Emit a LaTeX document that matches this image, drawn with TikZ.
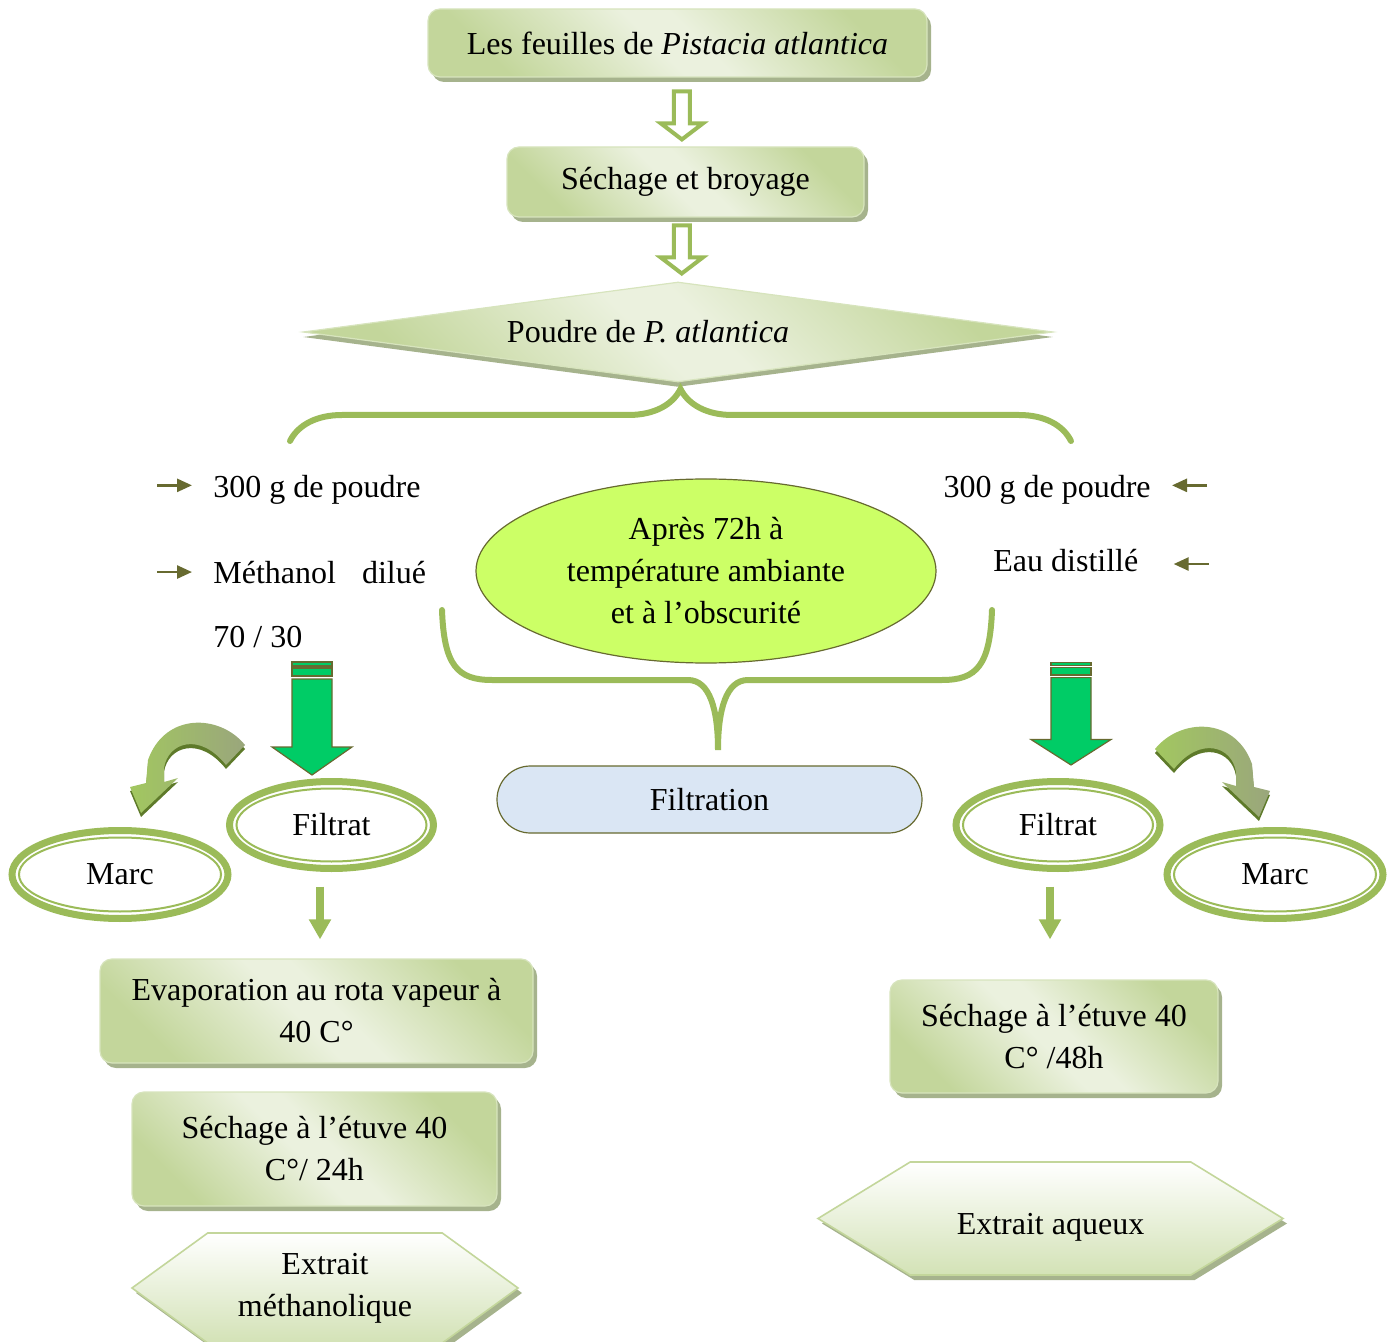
\documentclass[tikz,border=0pt]{standalone}
\usepackage{fontspec}
\setmainfont{Liberation Serif}
\usetikzlibrary{shapes.geometric,shapes.misc,shapes.symbols,shadows,calc,arrows.meta,decorations.pathreplacing}

\definecolor{gline}{HTML}{9BBB59}
\definecolor{gboxdark}{HTML}{C3D69B}
\definecolor{gboxlight}{HTML}{EBF1DE}
\definecolor{gedge}{HTML}{D7E4BD}
\definecolor{gshadow}{HTML}{A6B38D}
\definecolor{ghexdark}{HTML}{D3E2B6}
\definecolor{darkolive}{HTML}{676A30}
\definecolor{blockgreen}{HTML}{00CC66}
\definecolor{condfill}{HTML}{CCFF66}
\definecolor{filtfill}{HTML}{DAE6F4}
\definecolor{curvegreen}{HTML}{A2C760}
\definecolor{curvegray}{HTML}{9AA67C}
\definecolor{curvedark}{HTML}{5E7A2A}

\pgfdeclarehorizontalshading{gboxshade}{100bp}{color(0bp)=(gboxdark); color(25bp)=(gboxdark); color(47bp)=(gboxlight); color(53bp)=(gboxlight); color(75bp)=(gboxdark); color(100bp)=(gboxdark)}

\tikzset{
  gbox/.style={rectangle, rounded corners=6pt, draw=gedge, line width=0.6pt, shade, shading=gboxshade, shading angle=45,
    drop shadow={shadow xshift=2pt, shadow yshift=-2.5pt, fill=gshadow, opacity=1}, align=center, inner sep=0pt},
  losange/.style={diamond, aspect=7.5, draw=gedge, line width=0.6pt, shade, shading=gboxshade, shading angle=45,
    drop shadow={shadow xshift=0pt, shadow yshift=-2.5pt, fill=gshadow, opacity=1}, inner sep=0pt},
  hexbox/.style={signal, signal to=east and west, draw=gboxdark, line width=0.8pt, top color=white, bottom color=ghexdark,
    drop shadow={shadow xshift=2pt, shadow yshift=-2.5pt, fill=gshadow, opacity=1}, align=center, inner sep=0pt},
  cond/.style={ellipse, fill=condfill, draw=darkolive, line width=0.6pt, align=center, inner sep=0pt},
  filt/.style={rounded rectangle, fill=filtfill, draw=darkolive, line width=0.6pt, inner sep=0pt},
  ring/.style={ellipse, draw=gline, line width=3.5pt, fill=white, inner sep=0pt},
  ringin/.style={draw=gline, line width=1pt},
  lbl/.style={inner sep=0pt},
  tinyarr/.style={draw=darkolive, line width=1.3pt, -{Triangle[width=6.5pt,length=7.5pt]}},
  sarr/.style={draw=gline, line width=4pt, -{Triangle[width=10.5pt,length=10pt]}},
  bracestyle/.style={draw=gline, line width=3pt, line cap=round},
  blockarr/.style={fill=blockgreen, draw=darkolive, line width=0.6pt},
  hollowarrow/.pic={
    \draw[gline, line width=2pt, fill=white] (-8,-24) -- (-8,8) -- (-21,8) -- (0,24) -- (21,8) -- (8,8) -- (8,-24) -- cycle;
  },
  greenarrow/.pic={
    \filldraw[blockarr] (-20,-113) rectangle (20,-109);
    \filldraw[blockarr] (-20,-107) rectangle (20,-99);
    \filldraw[blockarr] (-20,-96) -- (-20,-28) -- (-40,-28) -- (0,0) -- (40,-28) -- (20,-28) -- (20,-96) -- cycle;
  },
  bentarrow/.pic={
    \path[left color=curvegreen, right color=curvegray,
      drop shadow={shadow xshift=0pt, shadow yshift=-2pt, fill=curvedark, opacity=1}]
      (245,745) .. controls (220,714) and (165,712) .. (148,760) -- (146,783) -- (130,787) -- (141,813)
      -- (178,778) -- (164,782) -- (164,768) .. controls (168,742) and (200,732) .. (226,765) -- cycle;
  }
}

\begin{document}
\begin{tikzpicture}[x=0.5pt, y=-0.5pt, font=\fontsize{16}{21}\selectfont]
  \useasboundingbox (0,0) rectangle (1398,1342);

  % main line
  \node[gbox, minimum width=249.5pt, minimum height=34pt] (feuilles) at (677.5,43) {Les feuilles de \textit{Pistacia atlantica}};
  \node[gbox, minimum width=178.5pt, minimum height=35pt] (sechage) at (685.5,182) {Séchage et broyage};
  \node[losange, minimum width=375pt, minimum height=50pt] (poudre) at (678,332) {Poudre de \textit{P. atlantica}\hspace*{30pt}};
  \pic at ($(feuilles.south)!0.55!(sechage.north)$) {hollowarrow};
  \pic at ($(sechage.south)!0.5!(poudre.north)$) {hollowarrow};

  % top brace
  \coordinate (bl) at (290,441);
  \coordinate (br) at (1071,441);
  \draw[bracestyle, decorate, decoration={brace, amplitude=26pt}] (bl) -- (br);

  % left and right inputs
  \node[lbl, anchor=base west] (lpoudre) at (213,498) {300 g de poudre};
  \node[lbl, anchor=base west] (lmeth) at (213,583) {Méthanol\hspace{9pt} dilué};
  \node[lbl, anchor=base west] (lratio) at (213,647) {70 / 30};
  \node[lbl, anchor=base east] (rpoudre) at (1151,498) {300 g de poudre};
  \node[lbl, anchor=base west] (reau) at (993,572) {Eau distillé};
  \draw[tinyarr] ([xshift=-28pt, yshift=2.5pt]lpoudre.west) -- ([xshift=-10.5pt, yshift=2.5pt]lpoudre.west);
  \draw[tinyarr] ([xshift=-28pt]lmeth.west) -- ([xshift=-10.5pt]lmeth.west);
  \draw[tinyarr] ([xshift=28pt, yshift=2.5pt]rpoudre.east) -- ([xshift=10.5pt, yshift=2.5pt]rpoudre.east);
  \draw[tinyarr] ([xshift=35pt, yshift=-1.5pt]reau.east) -- ([xshift=17.5pt, yshift=-1.5pt]reau.east);

  \node[cond, minimum width=230pt, minimum height=92pt] (cond) at (706,571) {Après 72h à\\température ambiante\\et à l’obscurité};

  % bottom brace
  \coordinate (al) at (442,610);
  \coordinate (ar) at (992,610);
  \coordinate (ftip) at (718,750);
  \draw[bracestyle] (al) .. controls +(2,55) and +(-35,0) .. ++(50,70) -- ($(ftip)+(-30,-70)$)
    .. controls +(22,0) and +(0,-40) .. (ftip) .. controls +(0,-40) and +(-22,0) .. ($(ftip)+(30,-70)$)
    -- ($(ar)+(-50,70)$) .. controls +(35,0) and +(-2,55) .. (ar);

  \node[filt, minimum width=212.5pt, minimum height=33.5pt] (filtration) at (709.5,799.5) {Filtration};

  % block arrows
  \pic at (312,775) {greenarrow};
  \pic[yscale=0.91] at (1071,765) {greenarrow};
  \pic at (0,0) {bentarrow};
  \pic[xscale=-1] at (1400,4) {bentarrow};

  % filtrat / marc
  \node[ring, minimum width=102pt, minimum height=43.5pt] (filtL) at (331.5,825) {Filtrat};
  \draw[ringin] (filtL.center) ellipse [x radius=47.5pt, y radius=18.25pt];
  \node[ring, minimum width=108pt, minimum height=44pt] (marcL) at (120,874.5) {Marc};
  \draw[ringin] (marcL.center) ellipse [x radius=50.5pt, y radius=18.5pt];
  \node[ring, minimum width=102pt, minimum height=43.5pt] (filtR) at (1058,825) {Filtrat};
  \draw[ringin] (filtR.center) ellipse [x radius=47.5pt, y radius=18.25pt];
  \node[ring, minimum width=108pt, minimum height=44pt] (marcR) at (1275,874.5) {Marc};
  \draw[ringin] (marcR.center) ellipse [x radius=50.5pt, y radius=18.5pt];

  % left branch
  \node[gbox, minimum width=216.5pt, minimum height=52pt] (evap) at (316.5,1011) {Evaporation au rota vapeur à\\40 C°};
  \node[gbox, minimum width=182.5pt, minimum height=57pt] (sechL) at (314.5,1149) {Séchage à l’étuve 40\\C°/ 24h};
  \node[hexbox, signal pointer angle=72, minimum width=193pt, minimum height=55pt] (methL) at (325,1288) {Extrait\\méthanolique};
  \draw[sarr] ([xshift=-5.75pt, yshift=-7.25pt]filtL.south) -- ([xshift=1.75pt, yshift=9.5pt]evap.north);

  % right branch
  \node[gbox, minimum width=164pt, minimum height=56.5pt] (sechR) at (1054,1036.5) {Séchage à l’étuve 40\\C° /48h};
  \node[hexbox, signal pointer angle=63, minimum width=232.5pt, minimum height=56.5pt] (aqueux) at (1050.5,1218.5) {\raisebox{-4.5pt}[\height][\depth]{Extrait aqueux}};
  \draw[sarr] ([xshift=-4pt, yshift=-7.25pt]filtR.south) -- ([xshift=-2pt, yshift=20pt]sechR.north);
\end{tikzpicture}
\end{document}
